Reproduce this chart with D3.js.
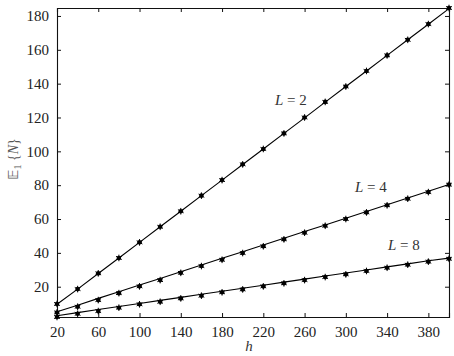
<!DOCTYPE html>
<html>
<head>
<meta charset="utf-8">
<script src="https://cdn.jsdelivr.net/npm/d3@7"></script>
<style>
  body { margin: 0; background: #fff; }
  text { font-family: "Liberation Serif", "DejaVu Serif", serif; }
</style>
</head>
<body>
<div id="chart"></div>
<script>
// Data
const hValues = [20, 40, 60, 80, 100, 120, 140, 160, 180, 200, 220, 240, 260, 280, 300, 320, 340, 360, 380, 400];

// simulated points (markers)
const simL2 = [9.8, 18.6, 27.9, 37.0, 46.2, 55.4, 64.6, 73.8, 83.0, 92.3, 101.4, 110.6, 120.0, 129.2, 138.3, 147.5, 156.7, 165.9, 175.2, 184.7];
const simL4 = [4.8, 8.2, 12.1, 16.2, 20.2, 23.9, 28.2, 32.2, 35.9, 39.9, 43.9, 48.0, 51.9, 56.0, 60.0, 63.9, 68.1, 72.0, 75.9, 80.3];
const simL8 = [2.1, 4.0, 5.6, 7.6, 9.6, 11.1, 13.1, 14.7, 16.7, 18.4, 20.2, 22.0, 23.9, 25.7, 27.3, 29.3, 31.2, 33.0, 34.8, 36.5];

// analytical curves (lines)
const lineL2 = [9.6, 18.6, 27.8, 37.0, 46.2, 55.4, 64.6, 73.8, 83.0, 92.2, 101.4, 110.6, 119.8, 129.1, 138.3, 147.5, 156.7, 165.9, 175.1, 184.3];
const lineL4 = [5.2, 9.1, 13.1, 17.0, 21.0, 24.9, 28.9, 32.8, 36.8, 40.7, 44.7, 48.6, 52.6, 56.5, 60.5, 64.4, 68.4, 72.4, 76.4, 80.4];
const lineL8 = [2.8, 4.7, 6.5, 8.3, 10.1, 11.9, 13.7, 15.5, 17.3, 19.1, 20.9, 22.7, 24.5, 26.3, 28.1, 29.9, 31.7, 33.5, 35.3, 36.9];

const xTicks = [20, 60, 100, 140, 180, 220, 260, 300, 340, 380];
const yTicks = [20, 40, 60, 80, 100, 120, 140, 160, 180];
const seriesLabels = ["L = 2", "L = 4", "L = 8"];

const width = 454, height = 356;
const margin = { top: 8, right: 5, bottom: 39, left: 57 };
const innerW = width - margin.left - margin.right;
const innerH = height - margin.top - margin.bottom;

const svg = d3.select("#chart").append("svg")
    .attr("width", width)
    .attr("height", height);

const g = svg.append("g")
    .attr("transform", `translate(${margin.left},${margin.top})`);

const x = d3.scaleLinear().domain([20, 400]).range([0, innerW]);
const allVals = simL2.concat(simL4, simL8, lineL2, lineL4, lineL8);
const y = d3.scaleLinear().domain(d3.extent(allVals)).range([innerH, 0]);

// axes, ticks pointing inward on all four sides
const tickLen = 4;
g.append("g")
    .attr("transform", `translate(0,${innerH})`)
    .call(d3.axisBottom(x).tickValues(xTicks).tickSize(-tickLen).tickPadding(9))
    .call(a => a.selectAll("text").style("font-size", "15px").attr("fill", "#222"));
g.append("g")
    .call(d3.axisTop(x).tickValues(xTicks).tickSize(-tickLen).tickFormat(""));
g.append("g")
    .call(d3.axisLeft(y).tickValues(yTicks).tickSize(-tickLen).tickPadding(8))
    .call(a => a.selectAll("text").style("font-size", "15px").attr("fill", "#222"));
g.append("g")
    .attr("transform", `translate(${innerW},0)`)
    .call(d3.axisRight(y).tickValues(yTicks).tickSize(-tickLen).tickFormat(""));
g.selectAll(".domain").attr("stroke", "#111").attr("stroke-width", 1.1);
g.selectAll(".tick line").attr("stroke", "#111");

// lines
const line = d3.line()
    .x((d, i) => x(hValues[i]))
    .y(d => y(d));

[lineL2, lineL4, lineL8].forEach(s => {
    g.append("path")
        .datum(s)
        .attr("fill", "none")
        .attr("stroke", "#000")
        .attr("stroke-width", 1.1)
        .attr("d", line);
});

// markers
const star = d3.symbol().type(d3.symbolAsterisk).size(30);
[simL2, simL4, simL8].forEach(s => {
    const m = g.append("g");
    m.selectAll("circle")
        .data(s)
        .join("circle")
        .attr("cx", (d, i) => x(hValues[i]))
        .attr("cy", d => y(d))
        .attr("r", 2.3)
        .attr("fill", "#000");
    m.selectAll("path")
        .data(s)
        .join("path")
        .attr("transform", (d, i) => `translate(${x(hValues[i])},${y(d)})`)
        .attr("d", star)
        .attr("fill", "none")
        .attr("stroke", "#000")
        .attr("stroke-width", 1);
});

// series annotations
const annot = [
    { x: 275, y: 105 },
    { x: 355, y: 192 },
    { x: 388, y: 250 }
];
seriesLabels.forEach((lbl, i) => {
    const t = svg.append("text")
        .attr("x", annot[i].x)
        .attr("y", annot[i].y)
        .style("font-size", "15px")
        .attr("fill", "#333");
    t.append("tspan").style("font-style", "italic").text("L");
    t.append("tspan").text(lbl.slice(1));
});

// axis titles
svg.append("text")
    .attr("x", 249)
    .attr("y", 351)
    .attr("text-anchor", "middle")
    .style("font-size", "15px")
    .style("font-style", "italic")
    .attr("fill", "#333")
    .text("h");

const yl = svg.append("text")
    .attr("transform", "translate(18,159) rotate(-90)")
    .attr("text-anchor", "middle")
    .style("font-size", "14px")
    .attr("fill", "#555");
yl.append("tspan").style("font-family", "'DejaVu Sans', sans-serif").text("\u{1D53C}");
yl.append("tspan").attr("dy", 3).style("font-size", "10px").text("1");
yl.append("tspan").attr("dy", -3).text(" {");
yl.append("tspan").style("font-style", "italic").text("N");
yl.append("tspan").text("}");
</script>
</body>
</html>
